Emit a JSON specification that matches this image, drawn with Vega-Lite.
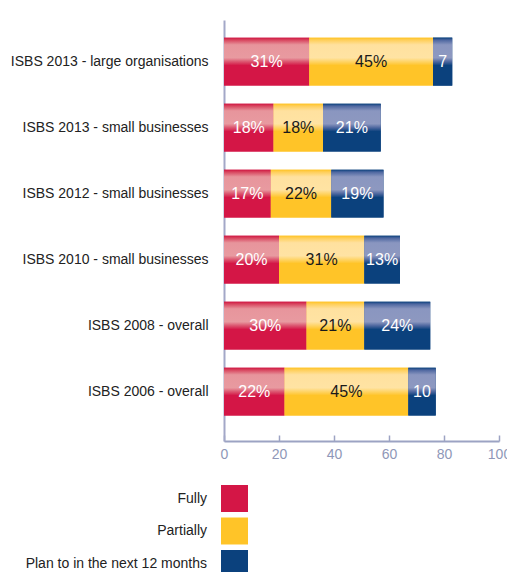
{
  "$schema": "https://vega.github.io/schema/vega-lite/v6.json",
  "width": 275,
  "height": 421,
  "autosize": {"type": "none"},
  "padding": {"left": 224, "top": 20, "right": 8, "bottom": 131},
  "background": "white",
  "config": {"view": {"stroke": null}, "font": "Liberation Sans"},
  "data": {
    "values": [
      {"survey": "ISBS 2013 - large organisations", "cat": "Fully", "value": 31, "label": "31%"},
      {"survey": "ISBS 2013 - large organisations", "cat": "Partially", "value": 45, "label": "45%"},
      {"survey": "ISBS 2013 - large organisations", "cat": "Plan to in the next 12 months", "value": 7, "label": "7"},
      {"survey": "ISBS 2013 - small businesses", "cat": "Fully", "value": 18, "label": "18%"},
      {"survey": "ISBS 2013 - small businesses", "cat": "Partially", "value": 18, "label": "18%"},
      {"survey": "ISBS 2013 - small businesses", "cat": "Plan to in the next 12 months", "value": 21, "label": "21%"},
      {"survey": "ISBS 2012 - small businesses", "cat": "Fully", "value": 17, "label": "17%"},
      {"survey": "ISBS 2012 - small businesses", "cat": "Partially", "value": 22, "label": "22%"},
      {"survey": "ISBS 2012 - small businesses", "cat": "Plan to in the next 12 months", "value": 19, "label": "19%"},
      {"survey": "ISBS 2010 - small businesses", "cat": "Fully", "value": 20, "label": "20%"},
      {"survey": "ISBS 2010 - small businesses", "cat": "Partially", "value": 31, "label": "31%"},
      {"survey": "ISBS 2010 - small businesses", "cat": "Plan to in the next 12 months", "value": 13, "label": "13%"},
      {"survey": "ISBS 2008 - overall", "cat": "Fully", "value": 30, "label": "30%"},
      {"survey": "ISBS 2008 - overall", "cat": "Partially", "value": 21, "label": "21%"},
      {"survey": "ISBS 2008 - overall", "cat": "Plan to in the next 12 months", "value": 24, "label": "24%"},
      {"survey": "ISBS 2006 - overall", "cat": "Fully", "value": 22, "label": "22%"},
      {"survey": "ISBS 2006 - overall", "cat": "Partially", "value": 45, "label": "45%"},
      {"survey": "ISBS 2006 - overall", "cat": "Plan to in the next 12 months", "value": 10, "label": "10"}
    ]
  },
  "encoding": {
    "y": {
      "field": "survey", "type": "nominal", "sort": null,
      "scale": {"paddingInner": 0.273, "paddingOuter": 0.326, "align": 0.41},
      "axis": {"title": null, "ticks": false, "labelPadding": 16, "labelFontSize": 14, "labelColor": "#222222", "domainColor": "#a3a8c8", "domainWidth": 2, "labelLimit": 260}
    },
    "x": {
      "field": "value", "type": "quantitative", "stack": "zero",
      "scale": {"domain": [0, 100], "nice": false},
      "axis": {"title": null, "values": [0, 20, 40, 60, 80, 100], "grid": false, "labelFlush": false, "tickSize": -6, "tickColor": "#9ca3c3", "tickWidth": 1.5, "domainColor": "#9ca3c3", "domainWidth": 2, "labelColor": "#8f97b8", "labelFontSize": 14, "labelPadding": 12}
    },
    "order": {"field": "cat", "type": "nominal"}
  },
  "layer": [
    {
      "mark": {"type": "bar"},
      "encoding": {
        "color": {
          "field": "cat", "type": "nominal",
          "scale": {"domain": ["Fully", "Partially", "Plan to in the next 12 months"], "range": ["#d41646", "#ffc428", "#0b417d"]},
          "legend": {"orient": "none", "legendX": -3, "legendY": 465, "title": null, "padding": 0, "symbolType": "square", "symbolSize": 729, "symbolStrokeWidth": 0, "symbolOpacity": 1, "labelOffset": -41, "labelAlign": "right", "labelFontSize": 14, "labelColor": "#222222", "rowPadding": 5.5, "labelLimit": 300}
        }
      }
    },
    {
      "mark": {"type": "bar"},
      "encoding": {
        "detail": {"field": "cat", "type": "nominal"},
        "fill": {
          "condition": [
            {"test": "datum.cat === 'Fully'", "value": {"gradient": "linear", "x1": 0, "y1": 0, "x2": 0, "y2": 1, "stops": [
              {"offset": 0, "color": "#cf1340"}, {"offset": 0.05, "color": "#d8465f"}, {"offset": 0.15, "color": "#e7959c"}, {"offset": 0.42, "color": "#e89aa0"}, {"offset": 0.5, "color": "#dc5670"}, {"offset": 0.58, "color": "#d41646"}, {"offset": 1, "color": "#d41646"}]}},
            {"test": "datum.cat === 'Partially'", "value": {"gradient": "linear", "x1": 0, "y1": 0, "x2": 0, "y2": 1, "stops": [
              {"offset": 0, "color": "#ffc21f"}, {"offset": 0.05, "color": "#ffcf5a"}, {"offset": 0.15, "color": "#ffe19f"}, {"offset": 0.42, "color": "#ffe3a3"}, {"offset": 0.5, "color": "#ffd466"}, {"offset": 0.58, "color": "#ffc428"}, {"offset": 1, "color": "#ffc428"}]}}
          ],
          "value": {"gradient": "linear", "x1": 0, "y1": 0, "x2": 0, "y2": 1, "stops": [
            {"offset": 0, "color": "#083f7b"}, {"offset": 0.05, "color": "#4e67a0"}, {"offset": 0.15, "color": "#8a96c0"}, {"offset": 0.42, "color": "#8d98c0"}, {"offset": 0.5, "color": "#4f68a0"}, {"offset": 0.58, "color": "#0b417d"}, {"offset": 1, "color": "#0b417d"}]}
        }
      }
    },
    {
      "mark": {"type": "text", "fontSize": 16, "baseline": "middle", "align": "center"},
      "encoding": {
        "x": {"field": "value", "type": "quantitative", "stack": "zero", "bandPosition": 0.5},
        "detail": {"field": "cat", "type": "nominal"},
        "text": {"field": "label"},
        "color": {"condition": {"test": "datum.cat === 'Partially'", "value": "#1a1a1a"}, "value": "white"}
      }
    }
  ]
}
